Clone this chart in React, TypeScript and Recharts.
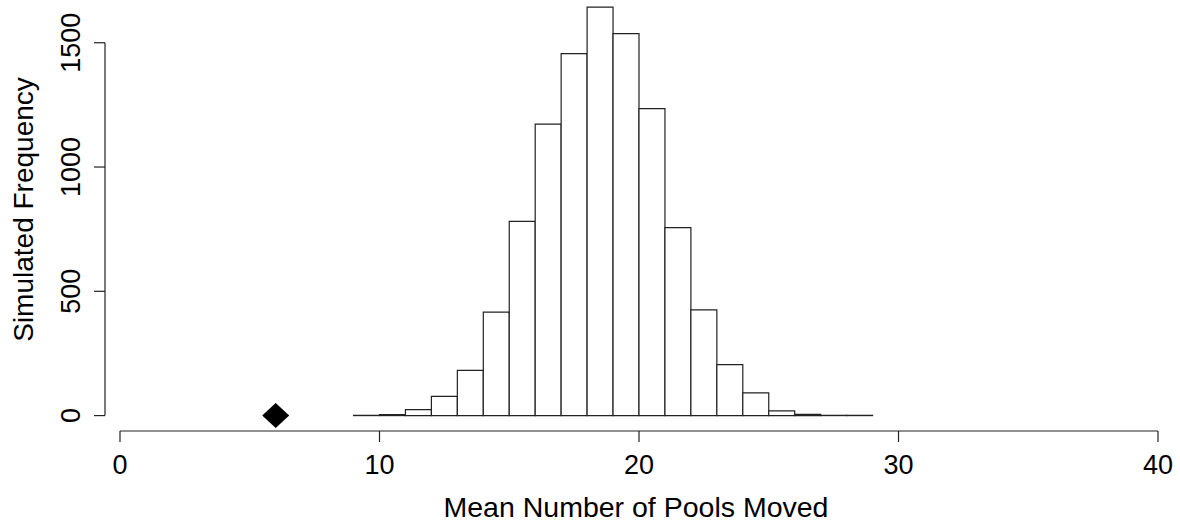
import React from 'react';
import { ComposedChart, XAxis, YAxis, ReferenceArea, ReferenceLine, Scatter, Label } from 'recharts';

// histogram bins: lower edge of each 1-wide bin and its simulated count
const binStarts = [9, 10, 11, 12, 13, 14, 15, 16, 17, 18, 19, 20, 21, 22, 23, 24, 25, 26, 27, 28];
const binCounts = [1, 4, 24, 77, 182, 416, 781, 1173, 1456, 1643, 1537, 1235, 756, 425, 205, 91, 19, 5, 1, 1];

const xTicks = [0, 10, 20, 30, 40];
const yTicks = [0, 500, 1000, 1500];

// observed value shown as a diamond
const observedX = [6];
const observedY = [0];

const X_DOMAIN: [number, number] = [-0.578, 40.578];
const Y_DOMAIN: [number, number] = [-62, 1672];

const FONT = '"Liberation Sans", Arial, sans-serif';
const INK = '#222';

const bins = binStarts.map((s, i) => ({ start: s, end: s + 1, count: binCounts[i] }));
const observed = observedX.map((x, i) => ({ start: x, count: observedY[i] }));

const XTick = ({ x, y, payload }: any) => (
  <text x={x} y={y + 30} textAnchor="middle" fontSize={27} fontFamily={FONT} fill="#000">
    {payload.value}
  </text>
);

const YTick = ({ x, y, payload }: any) => {
  const tx = x - 12;
  return (
    <text x={tx} y={y} transform={`rotate(-90 ${tx} ${y})`} textAnchor="middle" fontSize={27} fontFamily={FONT} fill="#000">
      {payload.value}
    </text>
  );
};

const Diamond = ({ cx, cy }: any) => (
  <polygon points={`${cx},${cy - 12.5} ${cx + 13.5},${cy} ${cx},${cy + 12.5} ${cx - 13.5},${cy}`} fill="#000" />
);

export default function App() {
  return (
    <div style={{ position: 'absolute', left: 0, top: 0, background: '#fff' }}>
      <ComposedChart width={1180} height={525} data={bins} margin={{ top: 0, right: 7, bottom: 34, left: 0 }}>
        <XAxis
          type="number"
          dataKey="start"
          domain={X_DOMAIN}
          allowDataOverflow
          ticks={xTicks}
          axisLine={false}
          tickSize={11}
          tickLine={{ stroke: INK, strokeWidth: 1.2 }}
          tick={<XTick />}
          height={60}
        >
          <Label
            content={({ viewBox }: any) => (
              <text x={viewBox.x + viewBox.width / 2 - 3} y={viewBox.y + 86} textAnchor="middle" fontSize={28.5} fontFamily={FONT} fill="#000">
                Mean Number of Pools Moved
              </text>
            )}
          />
        </XAxis>
        <YAxis
          type="number"
          dataKey="count"
          domain={Y_DOMAIN}
          allowDataOverflow
          ticks={yTicks}
          axisLine={false}
          tickSize={11}
          tickLine={{ stroke: INK, strokeWidth: 1.2 }}
          tick={<YTick />}
          width={105}
        >
          <Label
            content={({ viewBox }: any) => {
              const cx = 33;
              const cy = viewBox.y + viewBox.height / 2 - 6;
              return (
                <text x={cx} y={cy} transform={`rotate(-90 ${cx} ${cy})`} textAnchor="middle" fontSize={28} fontFamily={FONT} fill="#000">
                  Simulated Frequency
                </text>
              );
            }}
          />
        </YAxis>

        {bins.map((b) => (
          <ReferenceArea
            key={b.start}
            x1={b.start}
            x2={b.end}
            y1={0}
            y2={b.count}
            fill="#fff"
            fillOpacity={1}
            stroke={INK}
            strokeWidth={1.2}
            ifOverflow="visible"
          />
        ))}

        <ReferenceLine
          segment={[{ x: xTicks[0], y: Y_DOMAIN[0] }, { x: xTicks[xTicks.length - 1], y: Y_DOMAIN[0] }]}
          stroke={INK}
          strokeWidth={1.2}
          ifOverflow="visible"
        />
        <ReferenceLine
          segment={[{ x: X_DOMAIN[0], y: yTicks[0] }, { x: X_DOMAIN[0], y: yTicks[yTicks.length - 1] }]}
          stroke={INK}
          strokeWidth={1.2}
          ifOverflow="visible"
        />

        <Scatter data={observed} dataKey="count" shape={<Diamond />} isAnimationActive={false} />
      </ComposedChart>
    </div>
  );
}
